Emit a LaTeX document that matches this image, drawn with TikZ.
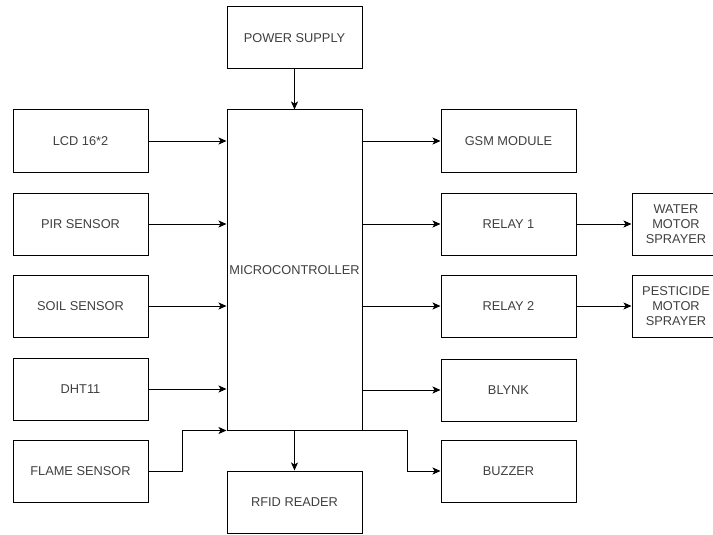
\documentclass[tikz,border=0pt]{standalone}
\usepackage{fontspec}
\setmainfont{Liberation Sans}
\usetikzlibrary{arrows.meta}
\begin{document}
\begin{tikzpicture}[x=1pt,y=-1pt,
  blk/.style={draw=black, line width=1pt, fill=white, inner sep=0pt,
    minimum width=135pt, minimum height=62pt, text=black!75,
    font=\fontsize{12.8}{15}\selectfont, align=center},
  conn/.style={draw=black, line width=1pt, -{Stealth[length=8pt,width=7pt,inset=2pt]}}]
\useasboundingbox[fill=white] (0,0) rectangle (713,535);
\begin{scope}
\clip (0,0) rectangle (713,535);
\node[blk] (power) at (294.5,38) {POWER SUPPLY};
\node[blk, minimum height=320pt] (micro) at (294.5,270) {MICROCONTROLLER};
\node[blk] (rfid) at (294.5,502) {RFID READER};
\node[blk] (lcd) at (80.5,141) {LCD 16*2};
\node[blk] (pir) at (80.5,224) {PIR SENSOR};
\node[blk] (soil) at (80.5,306) {SOIL SENSOR};
\node[blk] (dht) at (80.5,389) {DHT11};
\node[blk] (flame) at (80.5,471) {FLAME SENSOR};
\node[blk] (gsm) at (508.5,141) {GSM MODULE};
\node[blk] (relay1) at (508.5,224) {RELAY 1};
\node[blk] (relay2) at (508.5,306) {RELAY 2};
\node[blk] (blynk) at (508.5,390) {BLYNK};
\node[blk] (buzzer) at (508.5,471) {BUZZER};
\node[blk, minimum width=88pt] (water) at (676,224) {WATER\\MOTOR\\SPRAYER};
\node[blk, minimum width=88pt] (pest) at (676,306) {PESTICIDE\\MOTOR\\SPRAYER};
\draw[conn] (power) -- (micro);
\draw[conn] (micro) -- (rfid);
\foreach \n in {lcd,pir,soil,dht} \draw[conn] (\n.east) -- (\n.east -| micro.west);
\draw[conn] (flame.east) -- ++(34,0) |- (micro.south west);
\foreach \n in {gsm,relay1,relay2,blynk} \draw[conn] (\n.west -| micro.east) -- (\n.west);
\draw[conn] (micro.south east) -- ++(45,0) |- (buzzer.west);
\draw[conn] (relay1) -- (water);
\draw[conn] (relay2) -- (pest);
\end{scope}
\end{tikzpicture}
\end{document}
